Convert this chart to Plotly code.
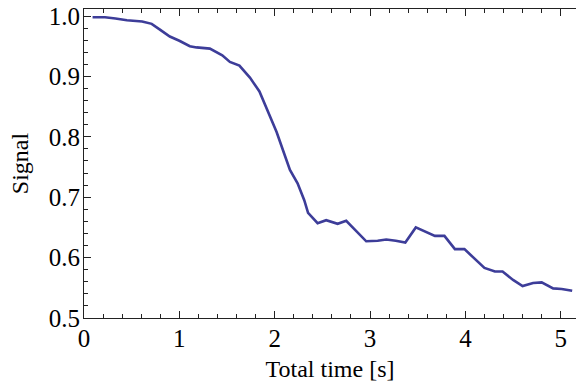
import plotly.graph_objects as go

# Measured signal versus total time
total_time = [0.09, 0.22, 0.33, 0.45, 0.61, 0.71, 0.80, 0.90, 1.00, 1.11,
              1.18, 1.32, 1.45, 1.53, 1.63, 1.74, 1.84, 1.93, 2.02, 2.10,
              2.16, 2.24, 2.31, 2.35, 2.45, 2.54, 2.66, 2.75, 2.86, 2.96,
              3.08, 3.17, 3.27, 3.37, 3.48, 3.58, 3.68, 3.78, 3.89, 3.99,
              4.08, 4.20, 4.31, 4.39, 4.50, 4.60, 4.71, 4.80, 4.92, 5.01,
              5.12]
signal = [0.998, 0.998, 0.996, 0.993, 0.991, 0.987, 0.977, 0.966, 0.959, 0.950,
          0.948, 0.946, 0.935, 0.924, 0.918, 0.898, 0.875, 0.843, 0.808, 0.772,
          0.745, 0.723, 0.695, 0.674, 0.657, 0.662, 0.656, 0.661, 0.644, 0.627,
          0.628, 0.630, 0.628, 0.625, 0.650, 0.643, 0.636, 0.636, 0.614, 0.614,
          0.601, 0.583, 0.577, 0.577, 0.563, 0.553, 0.558, 0.559, 0.549, 0.548,
          0.545]

x_ticks = [0, 1, 2, 3, 4, 5]
y_ticks = [0.5, 0.6, 0.7, 0.8, 0.9, 1.0]
y_tick_text = ["0.5", "0.6", "0.7", "0.8", "0.9", "1.0"]

SERIF = "Liberation Serif"
FRAME = "#222222"

fig = go.Figure()
fig.add_trace(go.Scatter(
    x=total_time, y=signal, mode="lines",
    line=dict(color="#3d3d99", width=2.6),
    showlegend=False,
))

fig.update_layout(
    width=576, height=385,
    margin=dict(l=84, r=0, t=9, b=67),
    paper_bgcolor="white", plot_bgcolor="white",
    font=dict(family=SERIF, size=24, color="black"),
)

fig.update_xaxes(
    range=[0, 5.16],
    tickvals=x_ticks,
    ticks="inside", ticklen=7, tickwidth=1, tickcolor=FRAME,
    minor=dict(dtick=0.2, ticks="inside", ticklen=4, tickwidth=1, tickcolor=FRAME, showgrid=False),
    showline=True, linecolor=FRAME, linewidth=1, mirror="ticks",
    showgrid=False, zeroline=False,
    tickfont=dict(family=SERIF, size=25, color="black"),
    ticklabelstandoff=-2,
    title=dict(text="Total time [s]", font=dict(family=SERIF, size=24, color="black"), standoff=9),
)

fig.update_yaxes(
    range=[0.5, 1.0116],
    tickvals=y_ticks, ticktext=y_tick_text,
    ticks="inside", ticklen=7, tickwidth=1, tickcolor=FRAME,
    minor=dict(dtick=0.02, tick0=0.5, ticks="inside", ticklen=4, tickwidth=1, tickcolor=FRAME, showgrid=False),
    showline=True, linecolor=FRAME, linewidth=1,
    showgrid=False, zeroline=False,
    tickfont=dict(family=SERIF, size=25, color="black"),
    ticklabelstandoff=-2,
    title=dict(text="Signal", font=dict(family=SERIF, size=24, color="black"), standoff=13),
)

fig.write_html("out.html")
